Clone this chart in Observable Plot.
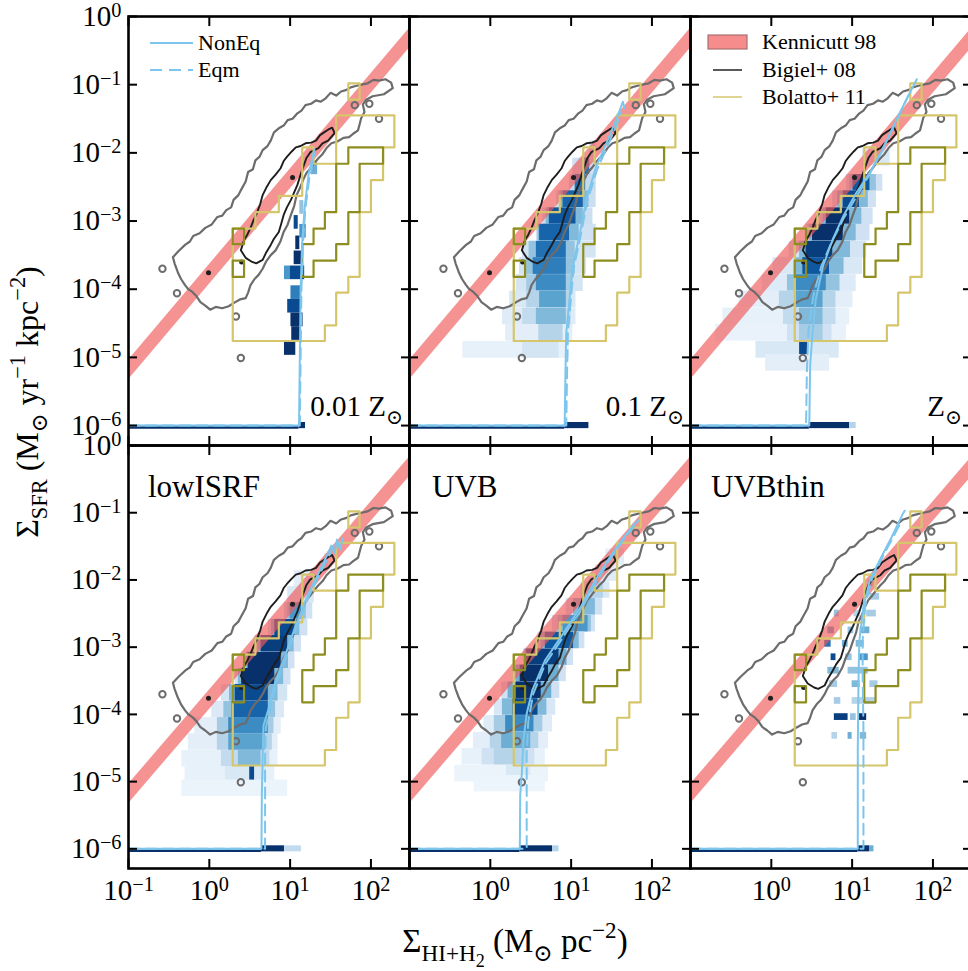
<!DOCTYPE html>
<html><head><meta charset="utf-8">
<script src="https://cdn.jsdelivr.net/npm/d3@7"></script>
<script src="https://cdn.jsdelivr.net/npm/@observablehq/plot@0.6"></script>
<style>
body{margin:0;background:#fff;}
#fig{position:relative;width:968px;height:971px;overflow:hidden;background:#fff;font-family:"Liberation Serif","DejaVu Serif",serif;}
#fig svg{position:absolute;overflow:visible;}
#fig text{font-family:"Liberation Serif","DejaVu Serif",serif;}
</style></head><body><div id="fig"></div>
<script>
// ---------------- data (log10 values) ----------------
const xDomain = [0.1, 300];
const yDomain = [5.1e-7, 1];
const xTicks = [0.1, 1, 10, 100];
const xTickLabelsLeft = [0.1, 1, 10, 100];
const xTickLabelsOther = [1, 10, 100];
const yTicks = [1, 0.1, 0.01, 1e-3, 1e-4, 1e-5, 1e-6];
const panelLabels = ["0.01 Z", "0.1 Z", "Z", "lowISRF", "UVB", "UVBthin"];
const floorLevel = 1e-6;

// Kennicutt 98 band: [Sigma_gas, lower, upper]
const kennicutt = [[0.1, 4.7e-6, 9.1e-6], [300, 0.345, 0.673]];

// Bigiel+08 contours [log x, log y]
const bigielOuter = [[-0.45,-3.53],[-0.38,-3.44],[-0.30,-3.35],[-0.24,-3.30],[-0.20,-3.22],[-0.12,-3.18],[-0.05,-3.10],[0.03,-3.05],[0.10,-2.94],[0.16,-2.92],[0.21,-2.84],[0.27,-2.80],[0.30,-2.69],[0.36,-2.62],[0.39,-2.55],[0.45,-2.42],[0.48,-2.28],[0.54,-2.24],[0.57,-2.11],[0.62,-2.06],[0.66,-1.96],[0.72,-1.90],[0.76,-1.82],[0.80,-1.70],[0.86,-1.64],[0.92,-1.60],[0.97,-1.52],[1.03,-1.50],[1.09,-1.42],[1.14,-1.38],[1.19,-1.30],[1.26,-1.28],[1.32,-1.23],[1.38,-1.25],[1.44,-1.20],[1.50,-1.12],[1.57,-1.16],[1.63,-1.10],[1.69,-1.08],[1.75,-1.04],[1.81,-1.02],[1.88,-1.00],[1.96,-0.98],[2.03,-0.93],[2.10,-0.94],[2.18,-0.92],[2.25,-0.97],[2.27,-1.05],[2.16,-1.14],[2.02,-1.17],[1.94,-1.22],[1.90,-1.29],[1.92,-1.40],[1.88,-1.49],[1.86,-1.58],[1.84,-1.67],[1.78,-1.72],[1.73,-1.77],[1.66,-1.78],[1.59,-1.83],[1.51,-1.86],[1.45,-1.93],[1.40,-2.02],[1.35,-2.08],[1.30,-2.15],[1.25,-2.23],[1.20,-2.30],[1.16,-2.40],[1.12,-2.52],[1.08,-2.62],[1.05,-2.78],[1.01,-2.91],[0.97,-3.05],[0.92,-3.16],[0.88,-3.30],[0.82,-3.43],[0.76,-3.50],[0.70,-3.60],[0.66,-3.70],[0.61,-3.79],[0.56,-3.85],[0.51,-3.94],[0.48,-4.05],[0.45,-4.13],[0.38,-4.15],[0.32,-4.19],[0.24,-4.25],[0.16,-4.28],[0.08,-4.26],[0.01,-4.30],[-0.05,-4.24],[-0.11,-4.19],[-0.16,-4.10],[-0.21,-4.04],[-0.26,-4.00],[-0.30,-3.94],[-0.35,-3.85],[-0.39,-3.75],[-0.43,-3.62]];
const bigielInner = [[0.39,-3.43],[0.43,-3.28],[0.47,-3.20],[0.51,-3.10],[0.55,-2.98],[0.58,-2.91],[0.63,-2.75],[0.66,-2.62],[0.71,-2.50],[0.76,-2.40],[0.82,-2.32],[0.88,-2.23],[0.92,-2.12],[0.96,-2.06],[1.02,-1.98],[1.07,-1.92],[1.13,-1.90],[1.19,-1.86],[1.26,-1.85],[1.32,-1.82],[1.37,-1.74],[1.42,-1.70],[1.47,-1.66],[1.52,-1.63],[1.55,-1.71],[1.47,-1.82],[1.40,-1.86],[1.35,-1.93],[1.25,-1.99],[1.20,-2.08],[1.17,-2.18],[1.13,-2.32],[1.09,-2.47],[1.05,-2.58],[1.01,-2.69],[0.96,-2.80],[0.92,-2.91],[0.89,-3.04],[0.86,-3.16],[0.80,-3.26],[0.76,-3.35],[0.70,-3.47],[0.66,-3.57],[0.58,-3.62],[0.53,-3.60],[0.45,-3.54]];
const bigielDots = [[1.98,-1.28],[2.10,-1.50],[0.39,-5.01],[-0.40,-4.06],[0.33,-4.40],[-0.58,-3.70],[1.80,-1.30]];
const bigielFilled = [[1.03,-2.36],[-0.01,-3.76],[0.40,-3.60]];

// Bolatto+11 contours [log x, log y]
const bolattoOuter = [[0.29,-4.76],[1.43,-4.76],[1.43,-4.53],[1.57,-4.53],[1.57,-4.05],[1.72,-4.05],[1.72,-3.82],[1.86,-3.82],[1.86,-2.87],[2.00,-2.87],[2.00,-2.40],[2.15,-2.40],[2.15,-1.92],[2.29,-1.92],[2.29,-1.45],[1.57,-1.45],[1.57,-2.16],[1.29,-2.16],[1.29,-1.92],[1.15,-1.92],[1.15,-2.63],[0.86,-2.63],[0.86,-2.87],[0.57,-2.87],[0.57,-3.11],[0.29,-3.11]];
const bolattoTopBox = [[1.72,-0.98],[1.86,-0.98],[1.86,-1.22],[1.72,-1.22]];
const bolattoInnerBoxA = [[0.29,-3.11],[0.43,-3.11],[0.43,-3.34],[0.29,-3.34]];
const bolattoInnerBoxB = [[0.29,-3.58],[0.43,-3.58],[0.43,-3.82],[0.29,-3.82]];
const bolattoInner = [[1.15,-3.34],[1.15,-3.82],[1.29,-3.82],[1.29,-3.58],[1.57,-3.58],[1.57,-3.34],[1.72,-3.34],[1.72,-2.87],[1.86,-2.87],[1.86,-2.16],[2.15,-2.16],[2.15,-1.92],[1.72,-1.92],[1.72,-2.16],[1.57,-2.16],[1.57,-2.87],[1.43,-2.87],[1.43,-3.11],[1.29,-3.11],[1.29,-3.34]];

// simulation 2D histograms: [log y (row centre), log x start, log x end, density 0..1]
const hist001 = [[-2.22,1.26,1.34,0.5],[-2.80,1.12,1.17,0.4],[-3.02,1.05,1.10,0.9],[-3.15,1.12,1.20,0.6],[-3.32,1.07,1.12,1.0],[-3.54,1.05,1.14,1.0],[-3.76,0.93,1.00,0.6],[-3.76,1.00,1.18,0.9],[-4.05,1.01,1.14,0.7],[-4.25,0.97,1.14,0.9],[-4.45,1.01,1.16,1.0],[-4.65,1.02,1.14,1.0],[-4.87,0.93,1.07,1.0]];
const hist01 = [[-1.95,1.23,1.31,0.25],[-2.20,1.02,1.31,0.2],[-2.20,1.15,1.23,0.75],[-2.44,0.98,1.31,0.25],[-2.44,1.05,1.18,0.75],[-2.68,0.82,1.31,0.22],[-2.68,0.86,1.22,0.45],[-2.68,0.90,1.15,0.8],[-2.93,0.65,1.27,0.22],[-2.93,0.69,1.15,0.45],[-2.93,0.73,1.06,0.85],[-3.17,0.57,1.31,0.2],[-3.17,0.59,1.10,0.45],[-3.17,0.61,0.98,0.8],[-3.42,0.40,1.31,0.18],[-3.42,0.48,1.05,0.4],[-3.42,0.57,0.94,0.75],[-3.66,0.36,1.19,0.18],[-3.66,0.45,1.05,0.4],[-3.66,0.53,0.94,0.7],[-3.91,0.32,1.15,0.18],[-3.91,0.45,1.02,0.35],[-3.91,0.57,0.94,0.65],[-4.15,0.24,1.06,0.15],[-4.15,0.45,1.00,0.3],[-4.15,0.61,0.94,0.55],[-4.40,0.15,1.06,0.12],[-4.40,0.40,1.00,0.25],[-4.40,0.57,0.94,0.45],[-4.64,0.19,1.02,0.1],[-4.64,0.60,0.90,0.3],[-4.89,-0.34,0.98,0.08],[-4.89,0.40,0.85,0.18]];
const hist1 = [[-2.07,1.13,1.47,0.15],[-2.44,0.93,1.38,0.2],[-2.44,0.97,1.30,0.4],[-2.44,1.01,1.22,0.85],[-2.68,0.76,1.30,0.2],[-2.68,0.82,1.20,0.45],[-2.68,0.89,1.09,0.9],[-2.93,0.60,1.26,0.2],[-2.93,0.64,1.12,0.45],[-2.93,0.68,0.97,1.0],[-3.17,0.43,1.22,0.2],[-3.17,0.47,1.05,0.45],[-3.17,0.51,0.89,1.0],[-3.42,0.22,1.18,0.18],[-3.42,0.35,0.98,0.45],[-3.42,0.43,0.76,0.95],[-3.66,0.02,1.13,0.15],[-3.66,0.30,0.90,0.45],[-3.66,0.39,0.72,0.85],[-3.91,-0.11,1.05,0.13],[-3.91,0.20,0.85,0.4],[-3.91,0.31,0.68,0.65],[-4.15,-0.40,1.01,0.1],[-4.15,0.10,0.80,0.3],[-4.15,0.31,0.64,0.55],[-4.40,-0.60,0.97,0.08],[-4.40,0.15,0.80,0.25],[-4.40,0.35,0.64,0.45],[-4.64,-0.69,0.93,0.07],[-4.64,0.20,0.75,0.2],[-4.64,0.35,0.64,0.35],[-4.89,-0.19,0.84,0.15],[-4.89,0.35,0.45,0.9],[-5.08,-0.07,0.72,0.1]];
const histLowISRF = [[-1.73,1.43,1.47,0.15],[-1.98,1.05,1.30,0.1],[-2.22,0.97,1.30,0.15],[-2.46,0.93,1.28,0.2],[-2.46,0.97,1.20,0.4],[-2.46,1.00,1.15,0.6],[-2.71,0.73,1.22,0.2],[-2.71,0.77,1.12,0.45],[-2.71,0.81,1.06,0.9],[-2.95,0.56,1.14,0.2],[-2.95,0.60,1.05,0.45],[-2.95,0.64,0.97,0.95],[-3.20,0.44,1.06,0.2],[-3.20,0.46,0.98,0.45],[-3.20,0.48,0.89,1.0],[-3.44,0.32,1.01,0.2],[-3.44,0.36,0.92,0.45],[-3.44,0.40,0.81,1.0],[-3.68,0.15,0.97,0.18],[-3.68,0.25,0.85,0.45],[-3.68,0.32,0.73,0.9],[-3.93,0.03,0.93,0.14],[-3.93,0.18,0.82,0.4],[-3.93,0.28,0.73,0.8],[-4.17,-0.18,0.89,0.1],[-4.17,0.10,0.80,0.35],[-4.17,0.24,0.73,0.65],[-4.41,-0.26,0.85,0.1],[-4.41,0.10,0.78,0.3],[-4.41,0.24,0.69,0.55],[-4.66,-0.34,0.85,0.08],[-4.66,0.15,0.75,0.25],[-4.66,0.36,0.64,0.45],[-4.90,-0.30,0.81,0.08],[-4.90,0.20,0.70,0.15],[-4.90,0.50,0.56,0.9],[-5.10,-0.34,0.97,0.06]];
const histUVB = [[-1.66,1.43,1.66,0.1],[-1.90,1.30,1.57,0.12],[-2.15,1.12,1.48,0.15],[-2.15,1.20,1.40,0.3],[-2.40,0.94,1.39,0.2],[-2.40,1.03,1.30,0.45],[-2.65,0.77,1.30,0.2],[-2.65,0.84,1.25,0.4],[-2.65,0.90,1.21,0.6],[-2.90,0.59,1.17,0.2],[-2.90,0.63,1.10,0.45],[-2.90,0.68,1.03,0.85],[-3.15,0.41,1.03,0.2],[-3.15,0.43,0.95,0.5],[-3.15,0.45,0.85,0.95],[-3.39,0.28,0.94,0.2],[-3.39,0.32,0.85,0.5],[-3.39,0.37,0.72,1.0],[-3.64,0.14,0.86,0.2],[-3.64,0.22,0.76,0.5],[-3.64,0.32,0.63,1.0],[-3.89,0.05,0.81,0.16],[-3.89,0.15,0.70,0.45],[-3.89,0.28,0.59,0.9],[-4.14,-0.08,0.77,0.12],[-4.14,0.05,0.65,0.35],[-4.14,0.19,0.54,0.65],[-4.39,-0.21,0.72,0.1],[-4.39,0.00,0.60,0.3],[-4.39,0.14,0.50,0.5],[-4.63,-0.35,0.68,0.08],[-4.63,-0.10,0.55,0.2],[-4.63,0.05,0.45,0.3],[-4.88,-0.44,0.72,0.06],[-4.88,0.20,0.50,0.15],[-5.03,-0.20,0.68,0.05]];
const histUVBthin = [[-2.05,1.20,1.26,0.45],[-2.25,1.22,1.34,0.35],[-2.50,0.78,0.84,0.4],[-2.50,1.02,1.10,0.3],[-2.50,1.18,1.30,0.35],[-2.75,0.70,0.78,0.55],[-2.75,0.95,1.02,0.4],[-2.75,1.10,1.22,0.5],[-2.95,0.66,0.74,0.75],[-2.95,0.88,0.95,0.5],[-2.95,1.05,1.15,0.45],[-3.15,0.74,0.80,0.9],[-3.15,0.92,1.00,0.4],[-3.15,1.08,1.20,0.6],[-3.35,0.70,0.84,0.45],[-3.35,0.95,1.20,0.4],[-3.55,0.72,0.82,0.35],[-3.55,1.00,1.10,0.45],[-3.55,1.22,1.32,0.35],[-3.80,0.78,0.86,0.35],[-3.80,1.00,1.30,0.3],[-4.04,0.78,0.95,0.95],[-4.04,0.98,1.05,0.4],[-4.04,1.08,1.18,1.0],[-4.32,0.75,0.82,0.3],[-4.32,0.95,1.00,0.5],[-4.32,1.10,1.18,0.45]];
const histRowHeight = [0.2, 0.245, 0.245, 0.245, 0.245, 0.1];

// cells at the SFR floor: [log x start, log x end, density]
const floor001 = [[1.11,1.19,1.0]];
const floor01 = [[0.92,1.22,1.0]];
const floor1 = [[0.47,0.97,1.0],[0.97,1.05,0.3]];
const floorLowISRF = [[0.645,0.93,1.0],[0.93,1.14,0.25]];
const floorUVB = [[0.365,0.77,1.0],[0.77,0.85,0.3]];
const floorUVBthin = [[1.07,1.22,1.0],[1.22,1.27,0.5]];

// NonEq (solid) and Eqm (dashed) model tracks [log x, log y]
const nonEq001 = [[-1,-6],[1.11,-6],[1.12,-5.0],[1.13,-4.0],[1.15,-3.3],[1.18,-2.8],[1.23,-2.3],[1.30,-1.95]];
const eqm001 = [[-1,-6],[1.12,-6],[1.13,-5.0],[1.14,-4.0],[1.16,-3.3],[1.19,-2.8],[1.24,-2.35],[1.31,-2.0]];
const nonEq01 = [[-1,-6],[0.92,-6],[0.93,-5.2],[0.94,-4.64],[1.02,-3.66],[1.11,-3.17],[1.19,-2.68],[1.31,-2.20],[1.44,-1.85],[1.56,-1.51],[1.64,-1.25],[1.66,-1.35]];
const eqm01 = [[-1,-6],[0.94,-6],[0.95,-5.2],[0.96,-4.64],[1.03,-3.70],[1.12,-3.20],[1.20,-2.70],[1.32,-2.25],[1.45,-1.90],[1.56,-1.60],[1.62,-1.40]];
const nonEq1 = [[-1,-6],[0.47,-6],[0.48,-5.13],[0.51,-4.64],[0.55,-4.15],[0.64,-3.66],[0.76,-3.27],[0.89,-2.93],[1.05,-2.59],[1.22,-2.29],[1.38,-1.95],[1.55,-1.51],[1.67,-1.22],[1.80,-0.92]];
const eqm1 = [[-1,-6],[0.43,-6],[0.44,-5.2],[0.46,-4.6],[0.52,-4.1],[0.62,-3.66],[0.75,-3.30],[0.90,-2.95],[1.05,-2.65],[1.20,-2.35],[1.35,-2.00],[1.50,-1.65],[1.62,-1.35],[1.70,-1.15]];
const nonEqLowISRF = [[-1,-6],[0.645,-6],[0.65,-5.2],[0.66,-4.66],[0.67,-4.17],[0.73,-3.93],[0.81,-3.54],[0.93,-3.15],[1.06,-2.71],[1.22,-2.22],[1.38,-1.83],[1.51,-1.49],[1.55,-1.60],[1.58,-1.40],[1.62,-1.55],[1.65,-1.38]];
const eqmLowISRF = [[-1,-6],[0.69,-6],[0.69,-5.2],[0.69,-4.66],[0.70,-4.2],[0.75,-3.93],[0.83,-3.54],[0.95,-3.15],[1.08,-2.71],[1.24,-2.22],[1.40,-1.83],[1.50,-1.60],[1.55,-1.45]];
const nonEqUVB = [[-1,-6],[0.365,-6],[0.37,-5.2],[0.39,-4.88],[0.41,-4.39],[0.45,-3.99],[0.52,-3.64],[0.68,-3.19],[0.90,-2.80],[1.12,-2.40],[1.30,-2.00],[1.48,-1.66],[1.66,-1.36],[1.79,-1.16],[1.84,-1.11]];
const eqmUVB = [[-1,-6],[0.45,-6],[0.45,-5.2],[0.45,-4.6],[0.47,-4.1],[0.53,-3.70],[0.68,-3.25],[0.90,-2.85],[1.12,-2.45],[1.30,-2.05],[1.48,-1.70],[1.66,-1.38],[1.78,-1.20]];
const nonEqUVBthin = [[-1,-6],[1.07,-6],[1.07,-4.5],[1.08,-3.39],[1.09,-2.90],[1.14,-2.40],[1.22,-2.00],[1.36,-1.66],[1.49,-1.36],[1.63,-1.01],[1.65,-0.97]];
const eqmUVBthin = [[-1,-6],[1.14,-6],[1.14,-5.0],[1.14,-4.2],[1.13,-3.4],[1.13,-2.9],[1.16,-2.4],[1.24,-2.0],[1.38,-1.65],[1.50,-1.38],[1.60,-1.15]];

const hists = [hist001, hist01, hist1, histLowISRF, histUVB, histUVBthin];
const floors = [floor001, floor01, floor1, floorLowISRF, floorUVB, floorUVBthin];
const nonEqs = [nonEq001, nonEq01, nonEq1, nonEqLowISRF, nonEqUVB, nonEqUVBthin];
const eqms = [eqm001, eqm01, eqm1, eqmLowISRF, eqmUVB, eqmUVBthin];

// ---------------- layout & style ----------------
const FONT = '"Liberation Serif", "DejaVu Serif", serif';
const panelLeft = [128, 409, 690];
const rowTop = [16, 445];
const rowH = [429, 423];
const PW = 281;
const C = {
  kenn: "rgb(240,90,90)", outer: "#6c6c6c", inner: "#1e1e1e",
  khaki: "#d5c66c", olive: "#8e8e20", track: "#7cc5ec", navy: "#08306b"
};
const closed = a => a.concat([a[0]]);
const fmt = d => "10^" + Math.round(Math.log10(d));

const fig = document.getElementById("fig");

function contourMarks() {
  const ln = (pts, stroke, w) => Plot.line(closed(pts), {x: d => 10 ** d[0], y: d => 10 ** d[1], stroke, strokeWidth: w, clip: true});
  return [
    ln(bigielOuter, C.outer, 2.2),
    ln(bigielInner, C.inner, 1.9),
    Plot.dot(bigielDots, {x: d => 10 ** d[0], y: d => 10 ** d[1], r: 3.2, stroke: C.outer, strokeWidth: 2, fill: "none", clip: true}),
    Plot.dot(bigielFilled, {x: d => 10 ** d[0], y: d => 10 ** d[1], r: 2.5, fill: C.inner, clip: true}),
    ln(bolattoOuter, C.khaki, 2.2),
    ln(bolattoTopBox, C.khaki, 2.2),
    ln(bolattoInner, C.olive, 2.2),
    ln(bolattoInnerBoxA, C.olive, 2.2),
    ln(bolattoInnerBoxB, C.olive, 2.2)
  ];
}

function supify(svg) {
  svg.querySelectorAll("text").forEach(t => {
    t.setAttribute("font-family", FONT);
    const m = /^10\^(-?\d+)$/.exec(t.textContent);
    if (!m) return;
    t.textContent = "10";
    const ts = document.createElementNS("http://www.w3.org/2000/svg", "tspan");
    ts.setAttribute("dy", "-0.45em");
    ts.setAttribute("font-size", "0.7em");
    ts.textContent = m[1].replace("-", "\u2212");
    t.appendChild(ts);
  });
}

function panel(i) {
  const col = i % 3, row = Math.floor(i / 3);
  const h = rowH[row];
  const bh = histRowHeight[i] / 2;
  const thr = nonEqs[i][1][0];
  const marks = [
    Plot.rect(hists[i], {x1: d => 10 ** d[1], x2: d => 10 ** d[2], y1: d => 10 ** (d[0] - bh), y2: d => 10 ** (d[0] + bh), fill: d => d[3], clip: true}),
    Plot.ruleY([floorLevel], {x1: () => xDomain[0], x2: () => 10 ** thr, stroke: C.navy, strokeWidth: 2.5, dy: 2, clip: true}),
    Plot.rect(floors[i], {x1: d => 10 ** d[0], x2: d => 10 ** d[1], y1: () => floorLevel * 10 ** -0.045, y2: () => floorLevel * 10 ** 0.045, fill: d => d[2], clip: true}),
    Plot.areaY(kennicutt, {x: d => d[0], y1: d => d[1], y2: d => d[2], fill: C.kenn, fillOpacity: 0.66, clip: true}),
    ...contourMarks(),
    Plot.line(eqms[i], {x: d => 10 ** d[0], y: d => 10 ** d[1], stroke: C.track, strokeWidth: 2, strokeDasharray: "11,6", clip: true}),
    Plot.line(nonEqs[i], {x: d => 10 ** d[0], y: d => 10 ** d[1], stroke: C.track, strokeWidth: 2, clip: true}),
    Plot.frame({stroke: "black", strokeWidth: 2.6}),
    Plot.axisX(xTicks, {anchor: "bottom", tickSize: -9, strokeWidth: 2, tickFormat: () => "", label: null}),
    Plot.axisX(xTicks, {anchor: "top", tickSize: -9, strokeWidth: 2, tickFormat: () => "", label: null}),
    Plot.axisY(yTicks, {anchor: "left", tickSize: -9, strokeWidth: 2, tickFormat: () => "", label: null}),
    Plot.axisY(yTicks, {anchor: "right", tickSize: -9, strokeWidth: 2, tickFormat: () => "", label: null})
  ];
  if (col === 0) marks.push(Plot.axisY(yTicks, {anchor: "left", tickSize: 0, tickPadding: 7, tickFormat: fmt, label: null, fontSize: 29, fontFamily: FONT}));
  if (row === 1) marks.push(Plot.axisX(col === 0 ? xTickLabelsLeft : xTickLabelsOther, {anchor: "bottom", tickSize: 0, tickPadding: 11, tickFormat: fmt, label: null, fontSize: 29, fontFamily: FONT}));
  const svg = Plot.plot({
    width: PW, height: h,
    marginTop: 0, marginRight: 0, marginBottom: 0, marginLeft: 0,
    x: {type: "log", domain: xDomain},
    y: {type: "log", domain: yDomain},
    color: {type: "linear", scheme: "blues", domain: [0, 1]},
    style: {background: "transparent", overflow: "visible", fontFamily: FONT, fontSize: "29px", color: "black"},
    marks
  });
  svg.style.left = panelLeft[col] + "px";
  svg.style.top = rowTop[row] + "px";
  supify(svg);
  fig.appendChild(svg);
}

for (let i = 0; i < 6; i++) panel(i);

// ---------------- overlay: annotations, legends, axis titles ----------------
const ov = d3.select(fig).append("svg").attr("width", 968).attr("height", 971)
  .style("left", "0px").style("top", "0px").attr("font-family", FONT);

function txt(x, y, s, size) {
  return ov.append("text").attr("x", x).attr("y", y).attr("font-size", size).attr("font-family", FONT).attr("fill", "black").text(s);
}
function rich(x, y, segs, size, anchor, rotate) {
  const t = ov.append("text").attr("x", x).attr("y", y).attr("font-size", size).attr("font-family", FONT)
    .attr("text-anchor", anchor || "start").attr("fill", "black");
  if (rotate) t.attr("transform", `rotate(${rotate},${x},${y})`);
  let shift = 0;
  for (const [s, mode] of segs) {
    const target = mode === "sub" ? 0.28 : mode === "sup" ? -0.42 : mode === "sub2" ? 0.45 : 0;
    const fs = mode === "" ? 1 : mode === "sub2" ? 0.55 : 0.7;
    t.append("tspan").attr("dy", ((target - shift) * size).toFixed(2)).attr("font-size", (fs * size).toFixed(2)).text(s);
    shift = target;
  }
  return t;
}

const zRight = [403, 684, 962];
rich(zRight[0], 416, [["0.01 Z", ""], ["\u2299", "sub"]], 29, "end");
rich(zRight[1], 416, [["0.1 Z", ""], ["\u2299", "sub"]], 29, "end");
rich(zRight[2], 416, [["Z", ""], ["\u2299", "sub"]], 29, "end");
txt(148, 497, panelLabels[3], 31);
txt(432, 497, panelLabels[4], 31);
txt(711, 497, panelLabels[5], 31);

ov.append("line").attr("x1", 150).attr("x2", 193).attr("y1", 43).attr("y2", 43).attr("stroke", C.track).attr("stroke-width", 2);
ov.append("line").attr("x1", 150).attr("x2", 193).attr("y1", 70).attr("y2", 70).attr("stroke", C.track).attr("stroke-width", 2).attr("stroke-dasharray", "12,7");
txt(198, 50, "NonEq", 22);
txt(198, 77, "Eqm", 22);

ov.append("rect").attr("x", 708).attr("y", 35).attr("width", 39).attr("height", 14).attr("fill", "rgb(246,140,140)").attr("stroke", "#a87070").attr("stroke-width", 1.2);
ov.append("line").attr("x1", 713).attr("x2", 742).attr("y1", 70).attr("y2", 70).attr("stroke", "#222").attr("stroke-width", 1.5);
ov.append("line").attr("x1", 713).attr("x2", 742).attr("y1", 97).attr("y2", 97).attr("stroke", C.khaki).attr("stroke-width", 1.5);
txt(762, 49, "Kennicutt 98", 22);
txt(762, 77, "Bigiel+ 08", 22);
txt(762, 104, "Bolatto+ 11", 22);

rich(38, 402, [["\u03A3", ""], ["SFR", "sub"], [" (M", ""], ["\u2299", "sub"], [" yr", ""], ["\u22121", "sup"], [" kpc", ""], ["\u22122", "sup"], [")", ""]], 32, "middle", -90);
rich(515, 952, [["\u03A3", ""], ["HI+H", "sub"], ["2", "sub2"], [" (M", ""], ["\u2299", "sub"], [" pc", ""], ["\u22122", "sup"], [")", ""]], 33, "middle");
</script></body></html>
